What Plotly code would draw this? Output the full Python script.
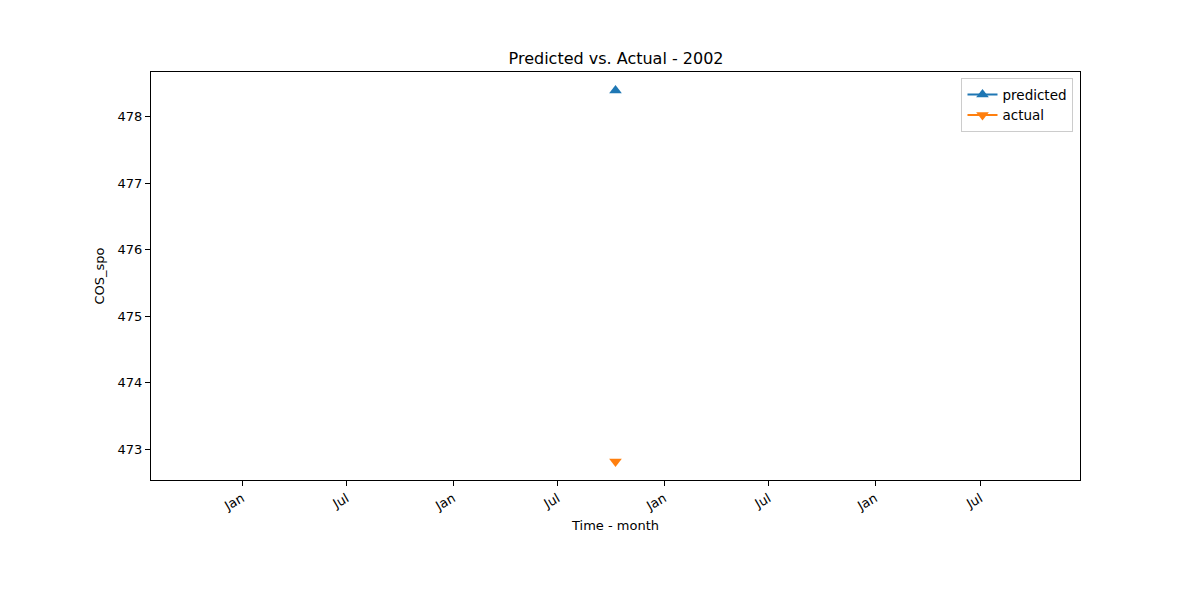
import pandas as pd
import plotly.graph_objects as go

# Data
dates = ["2002-10-09"]
predicted = [478.39]
actual = [472.82]
tick_dates = ["2001-01-01", "2001-07-01", "2002-01-01", "2002-07-01",
              "2003-01-01", "2003-07-01", "2004-01-01", "2004-07-01"]
tick_labels = ["Jan", "Jul", "Jan", "Jul", "Jan", "Jul", "Jan", "Jul"]

blue = "#1f77b4"
orange = "#ff7f0e"
font = "DejaVu Sans"

# x range: matplotlib expands a singular date by +-2 years, then 5% margins
center = pd.Timestamp(dates[0])
half = pd.Timedelta(days=365.25 * 2.2)
xr = [(center - half).isoformat(), (center + half).isoformat()]

lo = min(actual + predicted)
hi = max(actual + predicted)
pad = (hi - lo) * 0.05
yr = [lo - pad, hi + pad]

fig = go.Figure()
fig.add_trace(go.Scatter(x=dates, y=predicted, mode="lines+markers", name="predicted",
                         line=dict(color=blue, width=2),
                         marker=dict(symbol="triangle-up", size=11, color=blue)))
fig.add_trace(go.Scatter(x=dates, y=actual, mode="lines+markers", name="actual",
                         line=dict(color=orange, width=2),
                         marker=dict(symbol="triangle-down", size=11, color=orange)))

axis_common = dict(showline=True, linecolor="black", linewidth=1, mirror=True,
                   ticks="outside", ticklen=5, tickwidth=1, tickcolor="black",
                   showgrid=False, zeroline=False,
                   tickfont=dict(family=font, size=13, color="black"))

fig.update_layout(
    width=1200, height=600,
    paper_bgcolor="white", plot_bgcolor="white",
    margin=dict(l=143, r=128, t=64, b=128),
    font=dict(family=font, color="black"),
    title=dict(text="Predicted vs. Actual - 2002", x=0.5067, xanchor="center",
               y=0.9167, yanchor="middle", font=dict(family=font, size=16, color="black")),
    xaxis=dict(range=xr, tickmode="array", tickvals=tick_dates, ticktext=tick_labels,
               tickangle=-30,
               title=dict(text="Time - month", font=dict(family=font, size=13), standoff=8),
               **axis_common),
    yaxis=dict(range=yr, tickmode="linear", dtick=1, tick0=473,
               title=dict(text="COS_spo", font=dict(family=font, size=13), standoff=10),
               **axis_common),
    legend=dict(x=0.993, y=0.985, xanchor="right", yanchor="top",
                bordercolor="#cccccc", borderwidth=1, bgcolor="rgba(255,255,255,0.8)",
                font=dict(family=font, size=13.5), tracegroupgap=0),
    showlegend=True,
)

fig.write_html("out.html")
